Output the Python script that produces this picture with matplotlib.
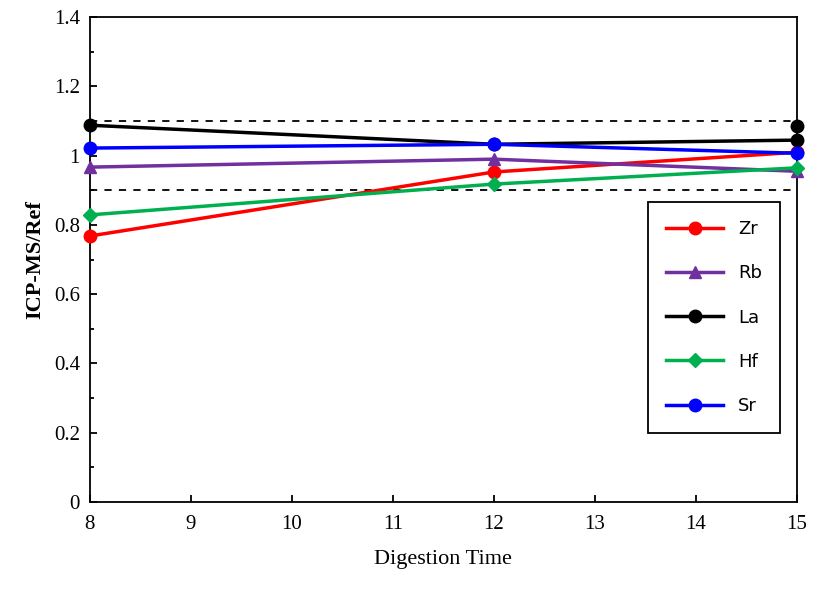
import matplotlib.pyplot as plt

days = [8, 12, 15]
zr = [0.768, 0.953, 1.01]
rb = [0.967, 0.99, 0.955]
la = [1.088, 1.033, 1.045]
la_extra = 1.085
hf = [0.829, 0.918, 0.965]
sr = [1.022, 1.033, 1.007]

plt.rcParams['font.family'] = ['Liberation Serif']
fig, ax = plt.subplots(figsize=(8.15, 5.92), dpi=100)
fig.subplots_adjust(left=0.11, right=0.978, top=0.971, bottom=0.152)

ax.axhline(1.1, color='black', ls=(0, (4, 4)), lw=1.3)
ax.axhline(0.9, color='black', ls=(0, (4, 4)), lw=1.3)

series = [('Zr', zr, 'red', 'o'), ('Rb', rb, '#7030a0', '^'), ('La', la, 'black', 'o'),
          ('Hf', hf, '#00b050', 'D'), ('Sr', sr, 'blue', 'o')]
for name, vals, c, m in series:
    ax.plot(days, vals, color=c, marker=m, lw=2.5, ms=9 if m != 'D' else 7,
            label=name, clip_on=False, zorder=3)
ax.plot([15], [la_extra], color='black', marker='o', ms=9, clip_on=False, zorder=3)

ax.set_xlim(8, 15)
ax.set_ylim(0, 1.4)
ax.set_yticks([0, 0.2, 0.4, 0.6, 0.8, 1.0, 1.2, 1.4])
ax.set_yticklabels(['0', '0.2', '0.4', '0.6', '0.8', '1', '1.2', '1.4'])
ax.set_yticks([0.1 + 0.2 * i for i in range(7)], minor=True)
ax.tick_params(axis='both', which='major', direction='in', labelsize=15, length=5, width=1.3)
ax.tick_params(axis='x', which='major', pad=9)
ax.tick_params(axis='y', which='major', pad=7)
ax.tick_params(axis='y', which='minor', direction='in', length=3, width=1.3)
for s in ax.spines.values():
    s.set_linewidth(1.3)
ax.set_xlabel('Digestion Time', fontsize=16, labelpad=12)
ax.set_ylabel('ICP-MS/Ref', fontsize=16, fontweight='bold', labelpad=6)

leg = ax.legend(loc='upper left', bbox_to_anchor=(0.776, 0.637),
                prop={'family': 'DejaVu Sans', 'size': 13}, fancybox=False,
                edgecolor='black', labelspacing=1.45, handlelength=3.2,
                borderpad=1.0, framealpha=1)
leg.get_frame().set_linewidth(1.3)

plt.savefig('out.png')
